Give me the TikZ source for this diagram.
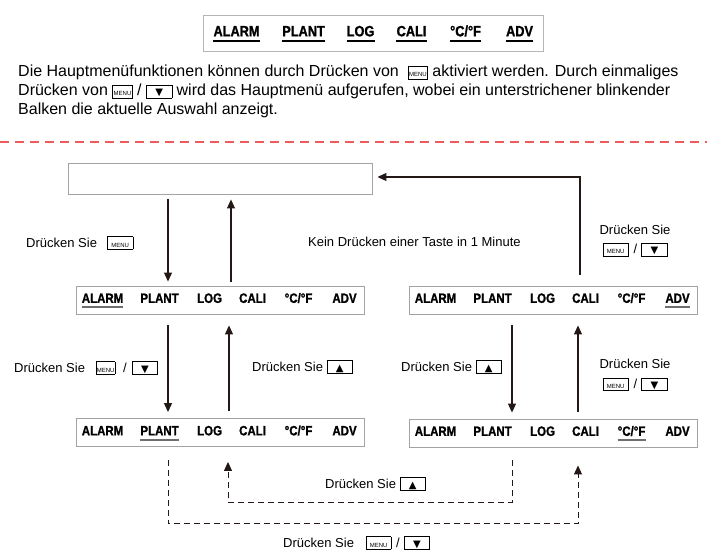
\documentclass[tikz,border=0pt]{standalone}
\usepackage{fontspec}
\setmainfont{Liberation Sans}
\newfontfamily\menufont[FakeStretch=0.85,FakeBold=1.2]{Liberation Sans}
\newfontfamily\symbolfont{DejaVu Sans}
\usepackage{xcolor}
\usetikzlibrary{arrows.meta}

\definecolor{linebrown}{HTML}{231815}
\definecolor{framegray}{HTML}{A3A3A3}
\definecolor{lightframe}{HTML}{B5B5B5}
\definecolor{selgray}{HTML}{6E6E6E}
\definecolor{cutred}{HTML}{EF5B5B}

\newcommand{\keybox}[2]{{\setlength{\fboxsep}{0pt}\setlength{\fboxrule}{0.6pt}\fbox{\makebox[#1]{\rule[-2pt]{0pt}{12pt}#2}}}}
\newcommand{\menukey}[1][19pt]{\keybox{#1}{\fontsize{6}{6}\selectfont MENU}}
\newcommand{\downkey}{\keybox{25pt}{\symbolfont\fontsize{10}{10}\selectfont ▼}}
\newcommand{\upkey}{\keybox{25pt}{\symbolfont\fontsize{10}{10}\selectfont ▲}}

\begin{document}
\begin{tikzpicture}[
        x=1pt, y=-1pt,
        menubar/.style={
            draw=framegray,
            line width=0.9pt,
            rectangle,
            minimum width=288pt,
            minimum height=28pt,
            inner sep=0pt
        },
        item/.style={
            font=\menufont\bfseries\fontsize{13.5}{14}\selectfont,
            inner xsep=0pt,
            inner ysep=4pt,
            text height=9.7pt,
            text depth=0pt
        },
        bigitem/.style={
            item,
            font=\menufont\bfseries\fontsize{15}{16}\selectfont,
            inner ysep=4.5pt,
            text height=10.7pt
        },
        selline/.style={
            draw=selgray,
            line width=2pt
        },
        note/.style={
            font=\fontsize{13}{19}\selectfont,
            inner sep=0pt
        },
        arrow/.style={
            -{Triangle[length=9pt,width=8pt]},
            draw=linebrown,
            line width=1.1pt
        },
        dasharrow/.style={
            arrow,
            line width=1pt,
            dash pattern=on 6pt off 4pt
        }
    ]

    \useasboundingbox (0,0) rectangle (707,551);

    % main menu with all functions
    \node[menubar, minimum width=340pt, minimum height=36pt, draw=lightframe] (topbar) at (373,33) {};
    \foreach \txt/\dx [count=\i] in {ALARM/34, PLANT/101, LOG/158, CALI/209, {°C/°F}/263, ADV/317} {
        \node[bigitem] (topbar-\i) at ([xshift=\dx pt, yshift=2pt]topbar.west) {\txt};
        \draw[line width=2pt] (topbar-\i.south west) -- (topbar-\i.south east);
    }

    \node[anchor=north west, inner sep=0pt, align=left, font=\fontsize{16}{19}\selectfont] (intro) at (18,65)
        {Die Hauptmenüfunktionen können durch Drücken von \ \menukey\ aktiviert werden. Durch einmaliges\\
         Drücken von \menukey\ / \downkey\ wird das Hauptmenü aufgerufen, wobei ein unterstrichener blinkender\\
         Balken die aktuelle Auswahl anzeigt.};

    \draw[cutred, line width=1.5pt, dash pattern=on 9pt off 6pt] (0,142) -- (707,142);

    % display and menu rows
    \node[menubar, minimum width=304pt, minimum height=31pt] (blank) at (220,178.5) {};
    \foreach \row/\cx/\cy in {rowalarm/220/300, rowadv/553/300, rowplant/220/432.5, rowtemp/553/433} {
        \node[menubar] (\row) at (\cx,\cy) {};
        \foreach \txt/\dx [count=\i] in {ALARM/27, PLANT/84, LOG/134, CALI/177, {°C/°F}/223, ADV/269}
            \node[item] (\row-\i) at ([xshift=\dx pt, yshift=2pt]\row.west) {\txt};
    }
    \draw[selline] (rowalarm-1.south west) -- (rowalarm-1.south east);
    \draw[selline] (rowadv-6.south west) -- (rowadv-6.south east);
    \draw[selline] (rowplant-2.south west) -- (rowplant-2.south east);
    \draw[selline] (rowtemp-5.south west) -- (rowtemp-5.south east);

    % key labels
    \node[note, anchor=west] (menuenter) at (26,243) {Drücken Sie\hspace{10pt}\menukey[25pt]};
    \node[note, anchor=west] (timeout) at (308,242) {Kein Drücken einer Taste in 1 Minute};
    \node[note, align=center] (pressreturn) at (635,241) {Drücken Sie\\\menukey[25pt]\hspace{5pt}/\hspace{4pt}\downkey};
    \node[note, anchor=west] (pressnextleft) at (14,368) {Drücken Sie\hspace{11pt}\menukey[18pt]\hspace{8pt}/\hspace{5pt}\downkey};
    \node[note, anchor=west] (pressprevleft) at (252,367) {Drücken Sie \upkey};
    \node[note, anchor=west] (pressprevright) at (401,367) {Drücken Sie \upkey};
    \node[note, align=center] (pressnextright) at (635,375) {Drücken Sie\\[1pt]\menukey[25pt]\hspace{5pt}/\hspace{4pt}\downkey};
    \node[note, anchor=west] (pressprevloop) at (325,484) {Drücken Sie \upkey};
    \node[note, anchor=west] (pressnextloop) at (283,543) {Drücken Sie\hspace{12pt}\menukey[24pt]\hspace{5pt}/\hspace{4pt}\downkey};

    % connectors
    \draw[arrow] ([xshift=-52pt,yshift=-5pt]blank.south) -- ([xshift=-52pt,yshift=4pt]rowalarm.north);
    \draw[arrow] ([xshift=11pt,yshift=4pt]rowalarm.north) -- ([xshift=11pt,yshift=-5pt]blank.south);
    \draw[arrow] ([xshift=27pt,yshift=11pt]rowadv.north) |- ([xshift=5pt,yshift=1.5pt]blank.east);
    \draw[arrow] ([xshift=-52pt,yshift=-11pt]rowalarm.south) -- ([xshift=-52pt,yshift=6pt]rowplant.north);
    \draw[arrow] ([xshift=9pt,yshift=7pt]rowplant.north) -- ([xshift=9pt,yshift=-11pt]rowalarm.south);
    \draw[arrow] ([xshift=-41pt,yshift=-11pt]rowadv.south) -- ([xshift=-41pt,yshift=6pt]rowtemp.north);
    \draw[arrow] ([xshift=25pt,yshift=7pt]rowtemp.north) -- ([xshift=25pt,yshift=-11pt]rowadv.south);
    \draw[dasharrow] ([xshift=-52pt,yshift=-13pt]rowplant.south) -- ++(0,64) -| ([xshift=25pt,yshift=-18pt]rowtemp.south);
    \draw[dasharrow] ([xshift=-41pt,yshift=-13pt]rowtemp.south) -- ++(0,42) -| ([xshift=8pt,yshift=-15pt]rowplant.south);

\end{tikzpicture}
\end{document}
